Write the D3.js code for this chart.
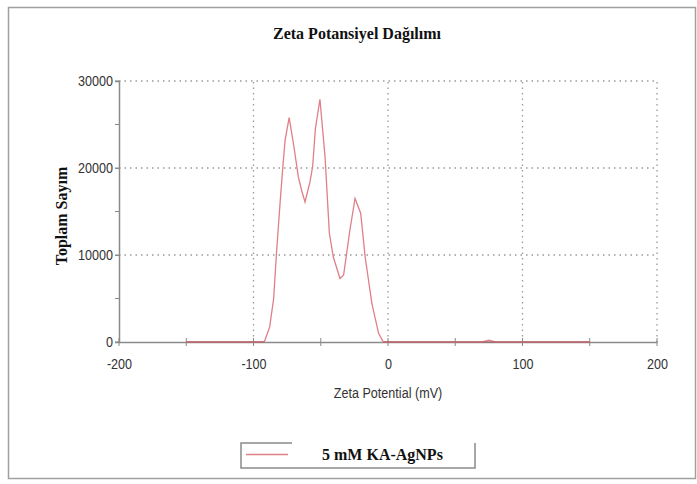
<!DOCTYPE html>
<html><head><meta charset="utf-8">
<script src="https://cdn.jsdelivr.net/npm/d3@7"></script>
<style>
body{margin:0;background:#fff;}
</style></head>
<body>
<svg id="chart" width="697" height="484"></svg>
<script>
const title = "Zeta Potansiyel Dağılımı";
const xLabel = "Zeta Potential (mV)";
const yLabel = "Toplam Sayım";
const seriesName = "5 mM KA-AgNPs";
const xTicks = [-200, -100, 0, 100, 200];
const xMinorTicks = [-200, -150, -100, -50, 0, 50, 100, 150, 200];
const yTicks = [0, 10000, 20000, 30000];
const yMinorTicks = [0, 5000, 10000, 15000, 20000, 25000, 30000];
const zeta = [-150, -92, -88, -85, -83, -80, -78, -76.5, -73.5, -70, -66.7, -64, -61.7, -58, -56, -54, -50.6, -46.8, -43.6, -40.7, -35.7, -33, -28.3, -24.5, -20.3, -17, -12, -7, -3.5, 0, 70, 75, 80, 150];
const counts = [0, 0, 1700, 5000, 10000, 16500, 20500, 23200, 25800, 22500, 19000, 17300, 16100, 18400, 20200, 24500, 27900, 21300, 12500, 9800, 7300, 7700, 12900, 16500, 14800, 9800, 4450, 1000, 0, 0, 0, 200, 0, 0];

const svg = d3.select("#chart");
const x = d3.scaleLinear().domain([-200, 200]).range([119, 657]);
const y = d3.scaleLinear().domain([0, 30000]).range([342, 81]);
const axisColor = "#8a8a8a";
const tickFont = "'Liberation Sans',Arial,sans-serif";
const serif = "'Liberation Serif','Times New Roman',serif";
const fmt = d => String(d);
const narrow = "scale(0.84,1)";

// outer frame
svg.append("rect").attr("x", 8.5).attr("y", 7.5).attr("width", 687).attr("height", 471)
  .attr("fill", "none").attr("stroke", "#a0a0a0").attr("stroke-width", 1.5);

// title
svg.append("text").attr("x", 357).attr("y", 39).attr("text-anchor", "middle")
  .attr("font-family", serif).attr("font-weight", "bold").attr("font-size", 16)
  .attr("fill", "#111").text(title);

// grid
const grid = svg.append("g").attr("stroke", "#999").attr("stroke-width", 1.3).attr("stroke-dasharray", "1.5,4");
grid.selectAll(".gx").data(xTicks.filter(d => d > -200)).join("line")
  .attr("x1", d => x(d)).attr("x2", d => x(d)).attr("y1", y(0)).attr("y2", y(30000));
grid.selectAll(".gy").data(yTicks.filter(d => d > 0)).join("line")
  .attr("x1", x(-200)).attr("x2", x(200)).attr("y1", d => y(d)).attr("y2", d => y(d));

// y axis
const yAxis = d3.axisLeft(y).tickValues(yTicks).tickSize(4).tickFormat(fmt);
const gy = svg.append("g").attr("transform", `translate(${x(-200)},0)`).call(yAxis);
gy.select(".domain").attr("stroke", axisColor).attr("stroke-width", 1.5);
gy.selectAll(".tick line").attr("stroke", axisColor);
gy.selectAll(".tick text").attr("font-family", tickFont).attr("font-size", 15).attr("fill", "#333")
  .attr("x", -7).attr("transform", narrow);
svg.append("g").selectAll("line").data(yMinorTicks).join("line")
  .attr("x1", x(-200) - 4).attr("x2", x(-200)).attr("y1", d => y(d)).attr("y2", d => y(d))
  .attr("stroke", axisColor);

// x axis
const xAxis = d3.axisBottom(x).tickValues(xTicks).tickSize(0).tickPadding(16).tickFormat(fmt);
const gx = svg.append("g").attr("transform", `translate(0,${y(0)})`).call(xAxis);
gx.select(".domain").attr("stroke", axisColor).attr("stroke-width", 1.5);
gx.selectAll(".tick text").attr("font-family", tickFont).attr("font-size", 15).attr("fill", "#333")
  .attr("transform", narrow);
svg.append("g").selectAll("line").data(xMinorTicks).join("line")
  .attr("x1", d => x(d)).attr("x2", d => x(d)).attr("y1", y(0) - 4).attr("y2", y(0) + 4)
  .attr("stroke", axisColor);

// axis labels
svg.append("g").attr("transform", "translate(388,398)")
  .append("text").attr("text-anchor", "middle").attr("transform", narrow)
  .attr("font-family", tickFont).attr("font-size", 15).attr("fill", "#333").text(xLabel);
svg.append("text").attr("transform", "translate(67,216) rotate(-90)").attr("text-anchor", "middle")
  .attr("font-family", serif).attr("font-weight", "bold").attr("font-size", 16)
  .attr("fill", "#111").text(yLabel);

// series
const data = zeta.map((z, i) => ({z, c: counts[i]}));
const line = d3.line().x(d => x(d.z)).y(d => y(d.c));
svg.append("path").datum(data).attr("d", line).attr("fill", "none")
  .attr("stroke", "#e07f86").attr("stroke-width", 1.3);
svg.append("line").attr("x1", x(-150)).attr("x2", x(-92)).attr("y1", y(0)).attr("y2", y(0))
  .attr("stroke", "#a0585c").attr("stroke-width", 1.2);
svg.append("line").attr("x1", x(-3.5)).attr("x2", x(150)).attr("y1", y(0)).attr("y2", y(0))
  .attr("stroke", "#a0585c").attr("stroke-width", 1.2);

// legend
const lg = svg.append("g");
lg.append("path").attr("d", "M292,443 H241 V468 H475 V443").attr("fill", "none")
  .attr("stroke", "#8a8a8a").attr("stroke-width", 1.5);
lg.append("line").attr("x1", 246).attr("x2", 288).attr("y1", 454.5).attr("y2", 454.5)
  .attr("stroke", "#e07f86").attr("stroke-width", 1.3);
lg.append("text").attr("x", 322).attr("y", 460).attr("font-family", serif)
  .attr("font-weight", "bold").attr("font-size", 16).attr("fill", "#111").text(seriesName);
</script>
</body></html>
